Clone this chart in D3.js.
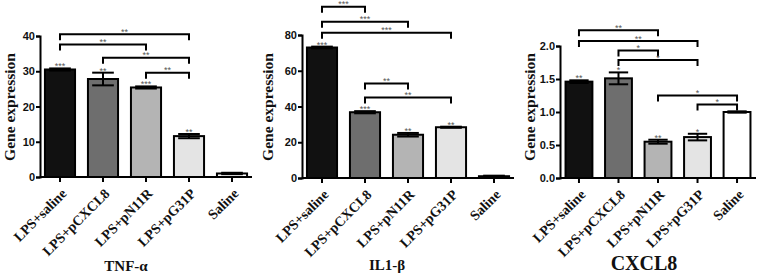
<!DOCTYPE html>
<html>
<head>
<meta charset="utf-8">
<script src="https://cdn.jsdelivr.net/npm/d3@7"></script>
<style>
  html, body { margin: 0; padding: 0; background: #fff; }
  svg { display: block; }
</style>
</head>
<body>
<div id="chart"></div>
<script>
// three bar panels: TNF-a, IL1-b, CXCL8 relative expression
const groups = ["LPS+saline", "LPS+pCXCL8", "LPS+pN11R", "LPS+pG31P", "Saline"];
const fills = ["#111111", "#6e6e6e", "#b4b4b4", "#e4e4e4", "#ffffff"];

const tnfValues = [30.5, 27.8, 25.4, 11.6, 1.0];
const tnfErrors = [0.3, 1.8, 0.3, 0.6, 0.2];
const tnfStars = ["***", "**", "***", "**", ""];
const tnfTicks = [0, 10, 20, 30, 40];
// [from, to, label, level in data units]
const tnfBrackets = [[0, 3, "**", 40.5], [0, 2, "**", 37.6], [1, 3, "**", 33.8], [2, 3, "**", 29.6]];

const ilValues = [73.0, 36.8, 24.2, 28.4, 1.0];
const ilErrors = [0.5, 0.6, 1.0, 0.3, 0.3];
const ilStars = ["***", "***", "**", "**", ""];
const ilTicks = [0, 20, 40, 60, 80];
const ilBrackets = [[0, 1, "***", 95.8], [0, 2, "***", 87.4], [0, 3, "***", 81.3], [1, 2, "**", 52.8], [1, 3, "**", 45.1]];

const cxValues = [1.46, 1.51, 0.55, 0.62, 1.0];
const cxErrors = [0.02, 0.09, 0.03, 0.05, 0.01];
const cxStars = ["**", "*", "**", "*", ""];
const cxTicks = [0, 0.5, 1.0, 1.5, 2.0];
const cxBrackets = [[0, 2, "**", 2.237], [0, 3, "**", 2.074], [1, 2, "*", 1.933], [1, 3, "*", 1.786], [2, 4, "*", 1.25], [3, 4, "*", 1.113]];

const W = 758, H = 277;
const svg = d3.select("#chart").append("svg").attr("width", W).attr("height", H);

const serif = "'Liberation Serif', 'Times New Roman', serif";
const sans = "'Liberation Sans', Arial, sans-serif";

function panel(opt) {
    const g = svg.append("g");
    const x = d3.scaleBand().domain(groups).range([opt.x0, opt.x1])
        .paddingInner(opt.pi).paddingOuter(opt.po);
    const y = d3.scaleLinear().domain([0, opt.max]).range([opt.y0, opt.yTop]);

    // bars
    g.selectAll("rect.bar").data(opt.values).enter().append("rect")
        .attr("x", (d, i) => x(groups[i]))
        .attr("y", d => y(d))
        .attr("width", x.bandwidth())
        .attr("height", d => y(0) - y(d))
        .attr("fill", (d, i) => fills[i])
        .attr("stroke", "#000")
        .attr("stroke-width", 2);

    // error bars
    const cap = x.bandwidth() * 0.36;
    opt.values.forEach((v, i) => {
        const cx = x(groups[i]) + x.bandwidth() / 2;
        const e = opt.errors[i];
        g.append("line").attr("x1", cx).attr("x2", cx)
            .attr("y1", y(v - e)).attr("y2", y(v + e))
            .attr("stroke", "#000").attr("stroke-width", 2);
        [v - e, v + e].forEach(t => {
            g.append("line").attr("x1", cx - cap).attr("x2", cx + cap)
                .attr("y1", y(t)).attr("y2", y(t))
                .attr("stroke", "#000").attr("stroke-width", 2);
        });
        if (opt.stars[i]) {
            g.append("text").attr("x", cx).attr("y", y(v + e) + 1)
                .attr("text-anchor", "middle")
                .style("font-family", sans).style("font-size", "9px")
                .style("fill", "#555").text(opt.stars[i]);
        }
    });

    // comparison brackets
    opt.brackets.forEach(b => {
        const xa = x(groups[b[0]]) + x.bandwidth() / 2;
        const xb = x(groups[b[1]]) + x.bandwidth() / 2;
        const yy = y(b[3]);
        g.append("path")
            .attr("d", `M${xa},${yy + 6}V${yy}H${xb}V${yy + 6}`)
            .attr("fill", "none").attr("stroke", "#000").attr("stroke-width", 2);
        g.append("text").attr("x", (xa + xb) / 2).attr("y", yy + 0.5)
            .attr("text-anchor", "middle")
            .style("font-family", sans).style("font-size", "9px")
            .style("fill", "#555").text(b[2]);
    });

    // axes
    const yAxis = g.append("g").attr("transform", `translate(${opt.x0},0)`)
        .call(d3.axisLeft(y).tickValues(opt.ticks).tickFormat(opt.fmt).tickSize(4).tickPadding(1));
    yAxis.selectAll("path, line").attr("stroke", "#000").attr("stroke-width", 2);
    yAxis.selectAll("text").style("font-family", sans).style("font-weight", "bold")
        .style("font-size", "11px").style("fill", "#111");

    const xAxis = g.append("g").attr("transform", `translate(0,${opt.y0})`)
        .call(d3.axisBottom(x).tickSize(5).tickSizeOuter(0).tickFormat(""));
    xAxis.select("path").attr("d", `M${opt.x0},0H${opt.x1}`);
    xAxis.selectAll("path, line").attr("stroke", "#000").attr("stroke-width", 2);

    // rotated category labels
    groups.forEach(name => {
        const cx = x(name) + x.bandwidth() / 2;
        g.append("text")
            .attr("transform", `translate(${cx + 4},${opt.y0 + 14}) rotate(-45)`)
            .attr("text-anchor", "end").attr("dy", "0.35em")
            .style("font-family", serif).style("font-weight", "bold")
            .style("font-size", "14px").style("fill", "#111")
            .text(name);
    });

    // y title
    g.append("text")
        .attr("transform", `translate(${opt.titleX},107) rotate(-90)`)
        .attr("text-anchor", "middle").attr("dy", "0.35em")
        .style("font-family", serif).style("font-weight", "bold")
        .style("font-size", "15.5px").style("fill", "#111")
        .text("Gene expression");

    // panel name
    g.append("text").attr("x", opt.nameX).attr("y", opt.nameY)
        .attr("text-anchor", "middle")
        .style("font-family", serif).style("font-weight", "bold")
        .style("font-size", opt.nameSize).style("fill", "#111")
        .text(opt.name);
}

panel({
    x0: 40, x1: 252, pi: 0.3, po: 0.115, y0: 177, yTop: 36, max: 40,
    values: tnfValues, errors: tnfErrors, stars: tnfStars, ticks: tnfTicks,
    brackets: tnfBrackets, fmt: d3.format("d"), titleX: 10,
    name: "TNF-α", nameX: 126, nameY: 271, nameSize: "15px"
});
panel({
    x0: 302, x1: 514, pi: 0.3, po: 0.115, y0: 178, yTop: 35, max: 80,
    values: ilValues, errors: ilErrors, stars: ilStars, ticks: ilTicks,
    brackets: ilBrackets, fmt: d3.format("d"), titleX: 268,
    name: "IL1-β", nameX: 387, nameY: 270, nameSize: "15px"
});
panel({
    x0: 560, x1: 756, pi: 0.32, po: 0.14, y0: 178, yTop: 46, max: 2,
    values: cxValues, errors: cxErrors, stars: cxStars, ticks: cxTicks,
    brackets: cxBrackets, fmt: d3.format(".1f"), titleX: 530,
    name: "CXCL8", nameX: 644, nameY: 270, nameSize: "20px"
});
</script>
</body>
</html>
